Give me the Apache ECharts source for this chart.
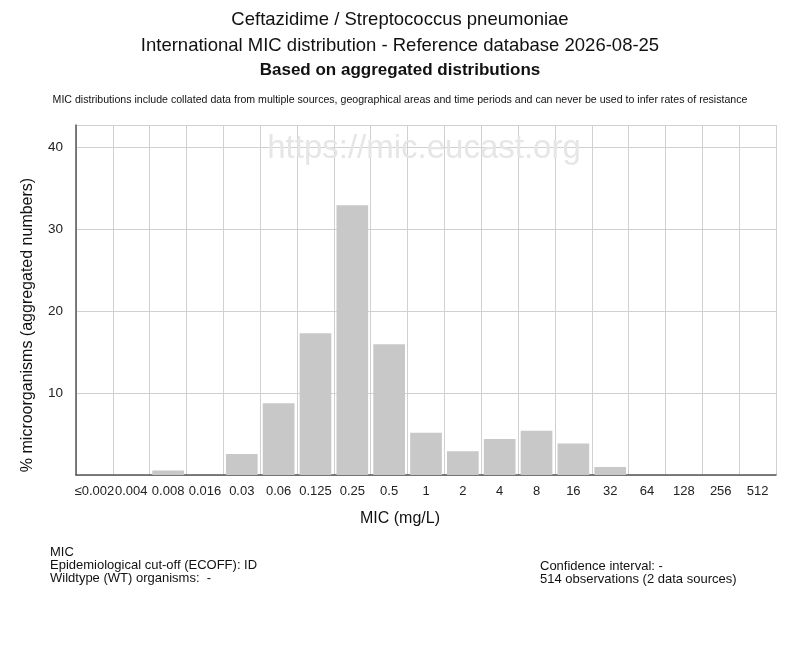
<!DOCTYPE html>
<html>
<head>
<meta charset="utf-8">
<script src="https://cdn.jsdelivr.net/npm/echarts@6/dist/echarts.min.js"></script>
<style>
  html, body { margin: 0; padding: 0; background: #fff; }
  #chart { width: 800px; height: 650px; }
</style>
</head>
<body>
<div id="chart"></div>
<script>
// MIC classes (mg/L) and % of isolates
const micLabels = ['≤0.002', '0.004', '0.008', '0.016', '0.03', '0.06', '0.125', '0.25', '0.5', '1', '2', '4', '8', '16', '32', '64', '128', '256', '512'];
const percentValues = [0, 0, 0.55, 0, 2.55, 8.75, 17.3, 32.9, 15.95, 5.15, 2.9, 4.4, 5.4, 3.85, 0.98, 0, 0, 0, 0];
const yTicks = { min: 0, max: 42.7, interval: 10 };

const sans = '"Liberation Sans", Arial, sans-serif';
const chart = echarts.init(document.getElementById('chart'), null, { renderer: 'canvas' });

const option = {
  animation: false,
  backgroundColor: '#fff',
  title: [
    { text: 'Ceftazidime / Streptococcus pneumoniae', left: 'center', top: 5,
      textStyle: { fontFamily: sans, fontSize: 18.5, fontWeight: 'normal', color: '#111' } },
    { text: 'International MIC distribution - Reference database 2026-08-25', left: 'center', top: 31,
      textStyle: { fontFamily: sans, fontSize: 18.5, fontWeight: 'normal', color: '#111' } },
    { text: 'Based on aggregated distributions', left: 'center', top: 57,
      textStyle: { fontFamily: sans, fontSize: 17, fontWeight: 'bold', color: '#111' } },
    { text: 'MIC distributions include collated data from multiple sources, geographical areas and time periods and can never be used to infer rates of resistance',
      left: 'center', top: 90,
      textStyle: { fontFamily: sans, fontSize: 10.6, fontWeight: 'normal', color: '#111' } }
  ],
  grid: { left: 76, right: 24, top: 125, bottom: 175, containLabel: false },
  xAxis: {
    type: 'category',
    data: micLabels,
    axisLine: { lineStyle: { color: '#555', width: 1.5 } },
    axisTick: { show: false },
    axisLabel: { interval: 0, color: '#222', fontSize: 13, margin: 10, fontFamily: sans },
    splitLine: { show: true, lineStyle: { color: '#d0d0d0', width: 1 } }
  },
  yAxis: {
    type: 'value',
    min: yTicks.min,
    max: yTicks.max,
    interval: yTicks.interval,
    axisLine: { show: true, lineStyle: { color: '#555', width: 1.5 } },
    axisTick: { show: false },
    axisLabel: { showMinLabel: false, showMaxLabel: false, color: '#222', fontSize: 13.5, margin: 13,
      fontFamily: sans },
    splitLine: { show: true, lineStyle: { color: '#d0d0d0', width: 1 } }
  },
  series: [{
    type: 'bar',
    data: percentValues,
    barCategoryGap: '14%',
    itemStyle: { color: '#c8c8c8' },
    z: 3
  }],
  graphic: [
    { type: 'text', x: 424, y: 149, z: 1, silent: true,
      style: { text: 'https://mic.eucast.org', fill: '#e6e6e6', align: 'center', verticalAlign: 'middle',
        font: '33px ' + sans } },
    { type: 'text', x: 20, y: 325, rotation: Math.PI / 2, z: 5,
      style: { text: '% microorganisms (aggregated numbers)', fill: '#111', align: 'center', verticalAlign: 'top',
        font: '16px ' + sans } },
    { type: 'text', x: 400, y: 519, z: 5,
      style: { text: 'MIC (mg/L)', fill: '#111', align: 'center', verticalAlign: 'middle',
        font: '16px ' + sans } },
    { type: 'text', x: 50, y: 546,
      style: { text: 'MIC\nEpidemiological cut-off (ECOFF): ID\nWildtype (WT) organisms:  -', fill: '#111',
        lineHeight: 13, font: '13px ' + sans } },
    { type: 'text', x: 540, y: 560,
      style: { text: 'Confidence interval: -\n514 observations (2 data sources)', fill: '#111',
        lineHeight: 13, font: '13px ' + sans } }
  ]
};

chart.setOption(option);
</script>
</body>
</html>
